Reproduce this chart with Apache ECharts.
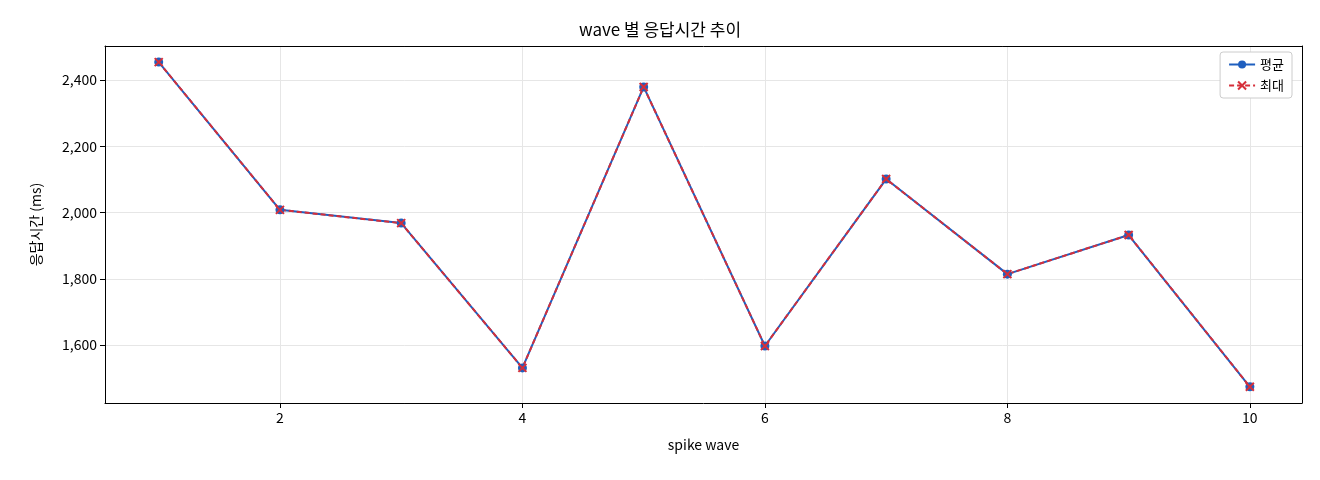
<!DOCTYPE html>
<html><head><meta charset="utf-8">
<script src="https://cdn.jsdelivr.net/npm/echarts@6/dist/echarts.min.js"></script>
<style>html,body{margin:0;background:#fff}#c{width:1320px;height:480px}</style>
</head><body><div id="c"></div>
<script>
const waves = [1,2,3,4,5,6,7,8,9,10];
const avgVals = [2454,2008,1968,1531,2379,1597,2101,1814,1932,1474];
const maxVals = [2454,2008,1968,1531,2379,1597,2101,1814,1932,1474];
const xTicks = [2,4,6,8,10];
const yTicks = [1600,1800,2000,2200,2400];
const font = '"Noto Sans CJK KR","Noto Sans",sans-serif';
const chart = echarts.init(document.getElementById('c'));
const frame = {show:true,onZero:false,lineStyle:{color:'#000'}};
chart.setOption({
  animation:false,
  textStyle:{fontFamily:font},
  title:{text:'wave 별 응답시간 추이',left:'center',top:16,textStyle:{fontSize:17,fontWeight:'normal',color:'#000',fontFamily:font}},
  legend:{right:28,top:52,orient:'vertical',itemGap:8,itemWidth:26,itemHeight:10,backgroundColor:'#fff',borderColor:'#ccc',borderWidth:1,borderRadius:3,padding:[6,8],textStyle:{fontSize:13,color:'#000'},
    data:['평균','최대']},
  grid:{left:105,right:18,top:46,bottom:77},
  xAxis:[{type:'value',min:0.557,max:10.43,
    axisLine:frame,axisTick:{show:true,customValues:xTicks,lineStyle:{color:'#000'}},
    axisLabel:{fontSize:14,color:'#000',customValues:xTicks},
    splitLine:{show:true,lineStyle:{color:'#e6e6e6'}},
    name:'spike wave',nameLocation:'middle',nameGap:35,nameTextStyle:{fontSize:14,color:'#000'}},
    {type:'value',position:'top',min:0.557,max:10.43,axisLine:frame,axisTick:{show:false},axisLabel:{show:false},splitLine:{show:false}}],
  yAxis:[{type:'value',min:1425,max:2502.6,
    axisLine:frame,axisTick:{show:true,customValues:yTicks,lineStyle:{color:'#000'}},
    axisLabel:{fontSize:14,color:'#000',customValues:yTicks},
    splitLine:{show:true,lineStyle:{color:'#e6e6e6'}},
    name:'응답시간 (ms)',nameLocation:'middle',nameGap:62,nameTextStyle:{fontSize:14,color:'#000'}},
    {type:'value',position:'right',min:1425,max:2502.6,axisLine:frame,axisTick:{show:false},axisLabel:{show:false},splitLine:{show:false}}],
  series:[
    {name:'평균',type:'line',data:waves.map((w,i)=>[w,avgVals[i]]),symbol:'circle',symbolSize:9,
      itemStyle:{color:'#1f5fbf'},lineStyle:{color:'#1f5fbf',width:2}},
    {name:'최대',type:'line',data:waves.map((w,i)=>[w,maxVals[i]]),symbol:'path://M-1,-1L1,1M1,-1L-1,1',symbolSize:8,
      itemStyle:{color:'#d62f3a',borderColor:'#d62f3a',borderWidth:2},lineStyle:{color:'#d62f3a',width:2,type:[5,3]}}
  ]
});
</script></body></html>
